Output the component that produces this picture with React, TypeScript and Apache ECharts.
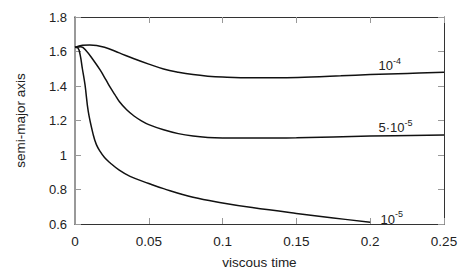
import React, { useEffect, useRef } from "react";
import * as echarts from "echarts";

const xTicks = [0, 0.05, 0.1, 0.15, 0.2, 0.25];
const yTicks = [0.6, 0.8, 1, 1.2, 1.4, 1.6, 1.8];

const curve1X = [0, 0.005, 0.01, 0.02, 0.03, 0.04, 0.05, 0.06, 0.07, 0.08, 0.09, 0.1, 0.12, 0.14, 0.16, 0.18, 0.2, 0.225, 0.25];
const curve1Y = [1.624, 1.636, 1.638, 1.625, 1.592, 1.558, 1.527, 1.499, 1.48, 1.466, 1.457, 1.452, 1.448, 1.448, 1.452, 1.459, 1.466, 1.473, 1.479];

const curve2X = [0, 0.004, 0.008, 0.012, 0.017, 0.021, 0.024, 0.027, 0.03, 0.035, 0.04, 0.045, 0.05, 0.06, 0.07, 0.08, 0.09, 0.1, 0.12, 0.15, 0.2, 0.25];
const curve2Y = [1.624, 1.628, 1.6, 1.555, 1.493, 1.435, 1.39, 1.35, 1.31, 1.262, 1.226, 1.198, 1.176, 1.146, 1.124, 1.11, 1.102, 1.099, 1.098, 1.1, 1.11, 1.116];

const curve3X = [0, 0.002, 0.0035, 0.005, 0.0068, 0.009, 0.0124, 0.0145, 0.0169, 0.02, 0.0237, 0.03, 0.0373, 0.05, 0.06, 0.08, 0.1, 0.12, 0.15, 0.175, 0.2];
const curve3Y = [1.624, 1.62, 1.58, 1.5, 1.406, 1.251, 1.116, 1.06, 1.022, 0.985, 0.955, 0.912, 0.876, 0.835, 0.805, 0.755, 0.722, 0.695, 0.661, 0.635, 0.61];

const labelTexts = ["{b|10}{s|-4}", "{b|5·10}{s|-5}", "{b|10}{s|-5}"];
const labelCoords = [
  [0.2053, 1.526],
  [0.2053, 1.166],
  [0.2067, 0.635],
];

const FONT = "'Liberation Sans', Arial, sans-serif";
const TEXT = "#222";

function zip(xs: number[], ys: number[]) {
  return xs.map((x, i) => [x, ys[i]]);
}

function fmt(v: number, d: number) {
  return String(parseFloat(v.toFixed(d)));
}

export default function App() {
  const ref = useRef<HTMLDivElement>(null);
  useEffect(() => {
    if (!ref.current) return;
    const chart = echarts.init(ref.current, null, { renderer: "svg" });
    const xMin = xTicks[0];
    const xMax = xTicks[xTicks.length - 1];
    const yMin = yTicks[0];
    const yMax = yTicks[yTicks.length - 1];
    const baseX = {
      type: "value" as const,
      min: xMin,
      max: xMax,
      interval: 0.05,
      splitLine: { show: false },
      axisTick: { show: true, inside: true, length: 6, lineStyle: { color: "#999", width: 1 } },
    };
    const baseY = {
      type: "value" as const,
      min: yMin,
      max: yMax,
      interval: 0.2,
      splitLine: { show: false },
      axisTick: { show: true, inside: true, length: 6, lineStyle: { color: "#999", width: 1 } },
    };
    const seriesData = [zip(curve1X, curve1Y), zip(curve2X, curve2Y), zip(curve3X, curve3Y)];
    chart.setOption({
      animation: false,
      backgroundColor: "#fff",
      textStyle: { fontFamily: FONT },
      grid: { left: 75, right: 19, top: 17, bottom: 54, containLabel: false },
      xAxis: [
        {
          ...baseX,
          position: "bottom",
          name: "viscous time",
          nameLocation: "middle",
          nameGap: 31,
          nameTextStyle: { fontSize: 13.5, color: TEXT, fontFamily: FONT },
          axisLine: { show: true, onZero: false, lineStyle: { color: "#333", width: 1 } },
          axisLabel: {
            fontSize: 13.5,
            color: TEXT,
            fontFamily: FONT,
            margin: 10,
            formatter: (v: number) => fmt(v, 2),
          },
        },
        {
          ...baseX,
          position: "top",
          axisLine: { show: true, onZero: false, lineStyle: { color: "#333", width: 1 } },
          axisLabel: { show: false },
        },
      ],
      yAxis: [
        {
          ...baseY,
          position: "left",
          name: "semi-major axis",
          nameLocation: "middle",
          nameGap: 48,
          nameRotate: 90,
          nameTextStyle: { fontSize: 13.5, color: TEXT, fontFamily: FONT },
          axisLine: { show: true, onZero: false, lineStyle: { color: "#999", width: 2 } },
          axisLabel: {
            fontSize: 13,
            color: TEXT,
            fontFamily: FONT,
            margin: 8,
            formatter: (v: number) => fmt(v, 1),
          },
        },
        {
          ...baseY,
          position: "right",
          axisLine: { show: true, onZero: false, lineStyle: { color: "#333", width: 1 } },
          axisLabel: { show: false },
        },
      ],
      series: seriesData.map((d, i) => ({
        type: "line",
        data: d,
        xAxisIndex: 0,
        yAxisIndex: 0,
        smooth: 0.4,
        showSymbol: false,
        symbol: "none",
        lineStyle: { color: "#111", width: 1.5 },
        silent: true,
        markPoint: {
          symbol: "circle",
          symbolSize: 1,
          itemStyle: { color: "rgba(0,0,0,0)" },
          silent: true,
          data: [
            {
              coord: labelCoords[i],
              label: {
                show: true,
                position: "right",
                distance: 0,
                formatter: labelTexts[i],
                rich: {
                  b: { fontSize: 13, color: TEXT, fontFamily: FONT, lineHeight: 16, verticalAlign: "bottom" },
                  s: { fontSize: 9, color: TEXT, fontFamily: FONT, lineHeight: 16, verticalAlign: "top" },
                },
              },
            },
          ],
        },
      })),
    });
    return () => chart.dispose();
  }, []);
  return (
    <div
      ref={ref}
      style={{ position: "fixed", left: 0, top: 0, width: 463, height: 278, background: "#fff" }}
    />
  );
}
